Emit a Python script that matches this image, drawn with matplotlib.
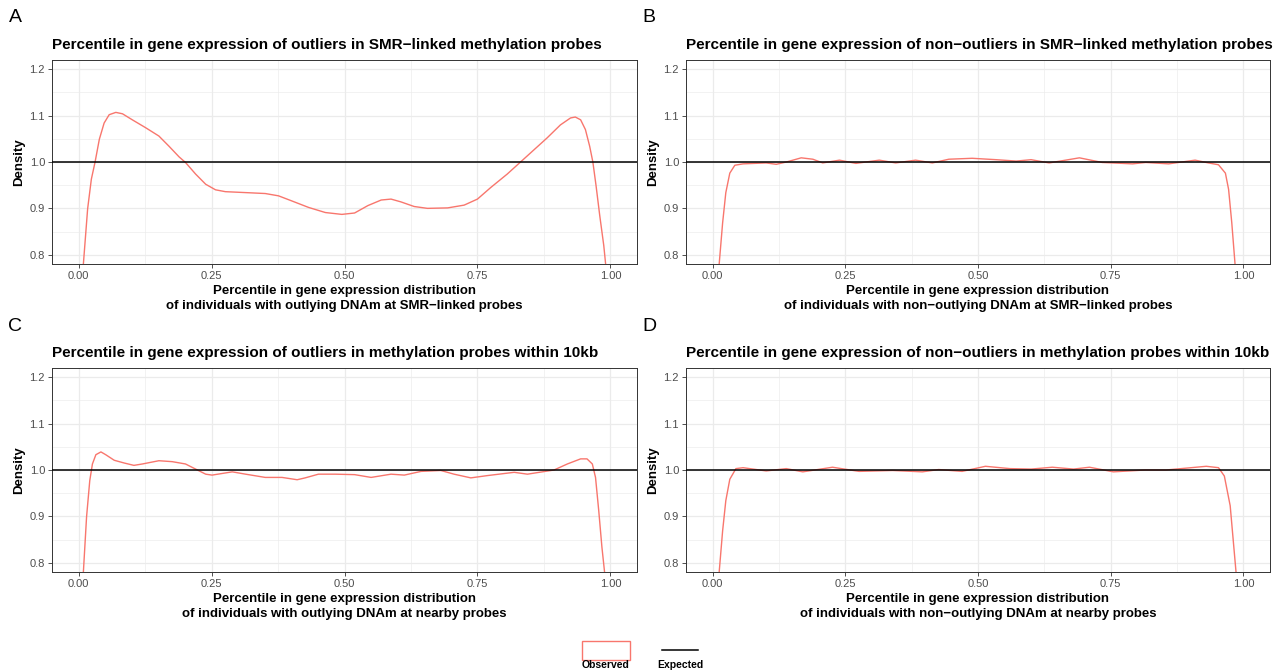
import matplotlib
matplotlib.use("Agg")
import matplotlib.pyplot as plt
from matplotlib.patches import Rectangle
from matplotlib.lines import Line2D

plt.rcParams['font.family'] = ['Liberation Sans', 'DejaVu Sans']

# ---- data ----
xA = [0.0, 0.009, 0.017, 0.024, 0.031, 0.039, 0.048, 0.0575, 0.07, 0.0825, 0.101, 0.126,
      0.151, 0.17, 0.189, 0.201, 0.22, 0.239, 0.2575, 0.276, 0.314, 0.351, 0.376, 0.401,
      0.4325, 0.464, 0.495, 0.519, 0.544, 0.569, 0.5875, 0.606, 0.631, 0.656, 0.694, 0.725,
      0.75, 0.775, 0.806, 0.831, 0.856, 0.881, 0.906, 0.925, 0.934, 0.944, 0.953, 0.961,
      0.967, 0.973, 0.98, 0.9875, 0.991, 1.0]
yA = [0.50, 0.78, 0.899, 0.963, 1.0, 1.049, 1.084, 1.102, 1.107, 1.104, 1.091, 1.074,
      1.056, 1.034, 1.011, 0.999, 0.974, 0.952, 0.94, 0.936, 0.934, 0.932, 0.927, 0.916,
      0.902, 0.891, 0.887, 0.89, 0.906, 0.918, 0.92, 0.914, 0.904, 0.9, 0.901, 0.907,
      0.92, 0.945, 0.974, 1.0, 1.026, 1.052, 1.08, 1.095, 1.097, 1.091, 1.07, 1.034,
      1.0, 0.949, 0.884, 0.82, 0.78, 0.60]

xB = [0.0, 0.0125, 0.019, 0.025, 0.0325, 0.042, 0.0575, 0.101, 0.12, 0.139, 0.167, 0.189,
      0.2075, 0.239, 0.27, 0.314, 0.345, 0.3825, 0.414, 0.445, 0.489, 0.534, 0.572, 0.6,
      0.634, 0.691, 0.734, 0.791, 0.816, 0.859, 0.909, 0.934, 0.953, 0.966, 0.972, 0.978,
      0.984, 1.0]
yB = [0.40, 0.78, 0.869, 0.934, 0.976, 0.993, 0.996, 0.998, 0.995, 1.0, 1.009, 1.006,
      0.998, 1.004, 0.997, 1.004, 0.998, 1.004, 0.998, 1.006, 1.008, 1.005, 1.002, 1.005,
      0.998, 1.009, 0.999, 0.996, 0.999, 0.996, 1.004, 0.998, 0.994, 0.976, 0.941, 0.869,
      0.782, 0.40]

xC = [0.0, 0.009, 0.015, 0.021, 0.026, 0.0325, 0.042, 0.051, 0.067, 0.086, 0.104, 0.12,
      0.151, 0.176, 0.201, 0.22, 0.239, 0.251, 0.289, 0.314, 0.351, 0.3825, 0.411, 0.426,
      0.451, 0.4825, 0.519, 0.55, 0.5875, 0.6125, 0.644, 0.681, 0.706, 0.7375, 0.769,
      0.819, 0.844, 0.894, 0.919, 0.944, 0.956, 0.966, 0.972, 0.978, 0.984, 0.989, 1.0]
yC = [0.45, 0.78, 0.899, 0.977, 1.013, 1.033, 1.039, 1.033, 1.021, 1.015, 1.01, 1.013,
      1.02, 1.018, 1.013, 1.002, 0.991, 0.989, 0.996, 0.991, 0.984, 0.984, 0.979, 0.983,
      0.991, 0.991, 0.99, 0.984, 0.991, 0.989, 0.997, 0.999, 0.991, 0.983, 0.988,
      0.995, 0.991, 1.0, 1.013, 1.024, 1.024, 1.013, 0.984, 0.913, 0.834, 0.78, 0.50]

xD = [0.0, 0.0125, 0.019, 0.025, 0.0325, 0.044, 0.0575, 0.101, 0.139, 0.17, 0.226, 0.276,
      0.339, 0.395, 0.426, 0.47, 0.514, 0.56, 0.6, 0.64, 0.68, 0.71, 0.755, 0.815, 0.854,
      0.93, 0.953, 0.964, 0.975, 0.986, 1.0]
yD = [0.40, 0.78, 0.869, 0.934, 0.98, 1.003, 1.005, 0.998, 1.003, 0.996, 1.006, 0.997,
      0.999, 0.996, 1.001, 0.997, 1.008, 1.003, 1.002, 1.006, 1.002, 1.006, 0.996, 1.0,
      1.0, 1.008, 1.005, 0.987, 0.923, 0.78, 0.40]

expected = 1.0

titles = [
    "Percentile in gene expression of outliers in SMR\u2212linked methylation probes",
    "Percentile in gene expression of non\u2212outliers in SMR\u2212linked methylation probes",
    "Percentile in gene expression of outliers in methylation probes within 10kb",
    "Percentile in gene expression of non\u2212outliers in methylation probes within 10kb",
]
xlabels = [
    "Percentile in gene expression distribution\nof individuals with outlying DNAm at SMR\u2212linked probes",
    "Percentile in gene expression distribution\nof individuals with non\u2212outlying DNAm at SMR\u2212linked probes",
    "Percentile in gene expression distribution\nof individuals with outlying DNAm at nearby probes",
    "Percentile in gene expression distribution\nof individuals with non\u2212outlying DNAm at nearby probes",
]
panel_letters = ["A", "B", "C", "D"]
xticks = [0.0, 0.25, 0.5, 0.75, 1.0]
xticklabels = ["0.00", "0.25", "0.50", "0.75", "1.00"]
yticks = [0.8, 0.9, 1.0, 1.1, 1.2]
yticklabels = ["0.8", "0.9", "1.0", "1.1", "1.2"]

series = [(xA, yA), (xB, yB), (xC, yC), (xD, yD)]

W, H = 1276, 672
fig = plt.figure(figsize=(W / 100, H / 100), dpi=100)

# axes boxes in pixels: left, top, right, bottom
boxes = [(52, 60, 637, 264), (686, 60, 1270, 264),
         (52, 368, 637, 572), (686, 368, 1270, 572)]
letter_pos = [(15, 18), (649, 18), (15, 327), (649, 327)]

red = "#F8766D"
for i, (l, t, r, b) in enumerate(boxes):
    ax = fig.add_axes([l / W, 1 - b / H, (r - l) / W, (b - t) / H])
    x, y = series[i]
    ax.set_xlim(-0.05, 1.05)
    ax.set_ylim(0.78, 1.22)
    ax.set_xticks(xticks)
    ax.set_xticklabels(xticklabels)
    ax.set_yticks(yticks)
    ax.set_yticklabels(yticklabels)
    ax.set_xticks([0.125, 0.375, 0.625, 0.875], minor=True)
    ax.set_yticks([0.85, 0.95, 1.05, 1.15], minor=True)
    ax.grid(True, which='major', color='#EBEBEB', lw=0.9)
    ax.grid(True, which='minor', color='#EBEBEB', lw=0.45)
    ax.tick_params(which='minor', length=0)
    ax.tick_params(which='major', length=3, width=0.6, color='#333333',
                   labelsize=8, labelcolor='#4D4D4D', pad=2)
    for s in ax.spines.values():
        s.set_color('#333333')
        s.set_linewidth(0.7)
    ax.set_axisbelow(True)
    ax.plot(x, y, color=red, lw=1.0, zorder=3, solid_joinstyle='round')
    ax.axhline(expected, color='black', lw=1.1, zorder=4)
    ax.set_ylabel("Density", fontsize=9.5, fontweight='bold', labelpad=3)
    ax.set_xlabel(xlabels[i], fontsize=9.5, fontweight='bold', labelpad=3,
                  linespacing=1.3)
    ax.set_title(titles[i], loc='left', fontsize=11, fontweight='bold', pad=8)
    fig.text(letter_pos[i][0] / W, 1 - letter_pos[i][1] / H, panel_letters[i],
             fontsize=14, ha='center', va='center')

# legend (bottom centre)
fig.add_artist(Rectangle((582 / W, 1 - 660 / H), 48 / W, 19 / H, transform=fig.transFigure,
                         fill=False, edgecolor=red, lw=1.0))
fig.add_artist(Line2D([662 / W, 698 / W], [1 - 650 / H, 1 - 650 / H],
                      transform=fig.transFigure, color='black', lw=1.1))
fig.text(606 / W, 1 - 665 / H, "Observed", fontsize=7.5, fontweight='bold',
         ha='center', va='center')
fig.text(680 / W, 1 - 665 / H, "Expected", fontsize=7.5, fontweight='bold',
         ha='center', va='center')

fig.savefig("out.png", dpi=100, facecolor='white')
